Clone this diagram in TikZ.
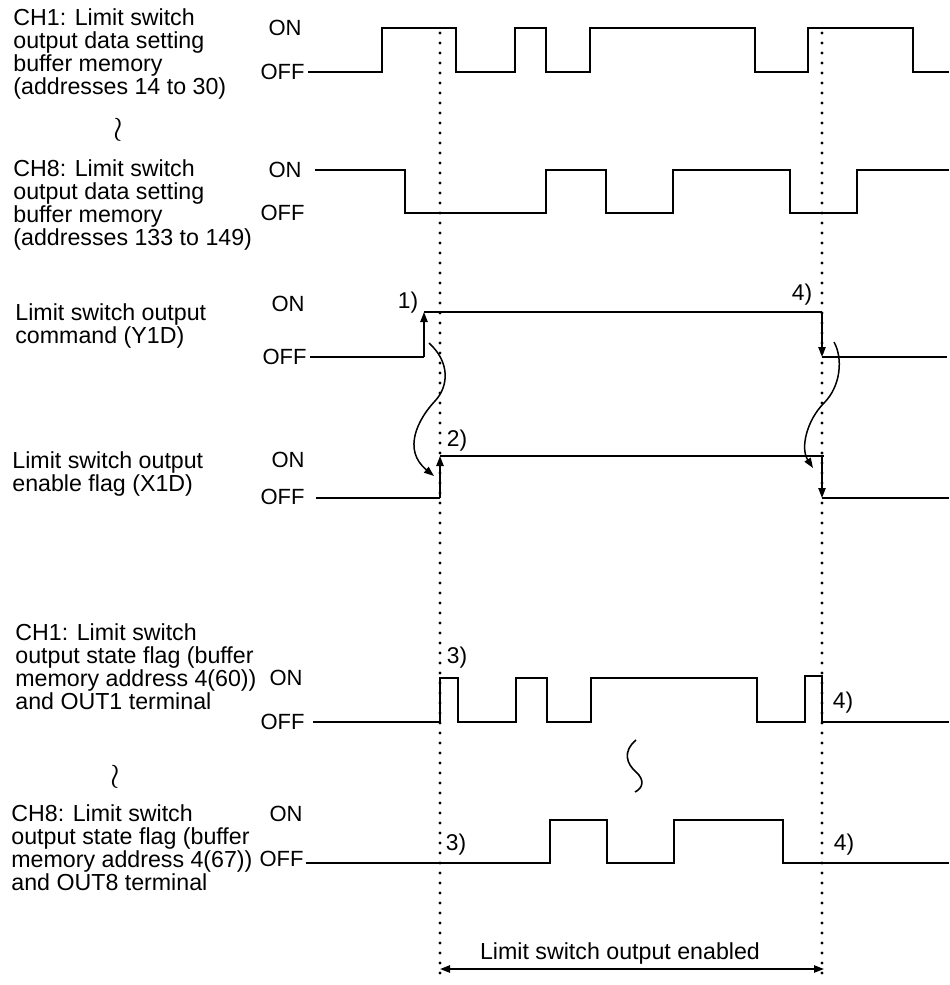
\documentclass[tikz,border=0pt]{standalone}
\usepackage{fontspec}
\setmainfont{Liberation Sans}
\usetikzlibrary{arrows.meta}
\tikzset{sig/.style={line width=0.9pt,line join=miter},
  guide/.style={line width=1.6pt,line cap=round,dash pattern=on 0pt off 5pt},
  edge/.style={-{Triangle[length=5pt,width=3.6pt]},line width=0.9pt},
  cause/.style={-{Triangle[length=5pt,width=3.6pt]},line width=0.75pt},
  desc/.style={align=left,anchor=base west,inner sep=0pt,
    font=\fontsize{11.6}{11.4}\selectfont},
  lvl/.style={inner sep=0pt,font=\fontsize{11}{11}\selectfont},
  tagl/.style={inner sep=0pt,font=\fontsize{11.4}{11.4}\selectfont},
  gap/.style={inner sep=0pt,font=\fontsize{17}{17}\selectfont}}

\begin{document}
\begin{tikzpicture}[x=0.5pt,y=-0.5pt]
 \useasboundingbox (0,0) rectangle (949,985);
 % signal names (placed by the baseline of their last line)
 \node[desc] (d1) at (13,94) {CH1: Limit switch\\output data setting\\buffer memory\\(addresses 14 to 30)};
 \node[gap] (w1) at (118,130) {$\wr$};
 \node[desc] (d2) at (13,245) {CH8: Limit switch\\output data setting\\buffer memory\\(addresses 133 to 149)};
 \node[desc] (d3) at (15,343) {Limit switch output\\command (Y1D)};
 \node[desc] (d4) at (12,491) {Limit switch output\\enable flag (X1D)};
 \node[desc] (d5) at (15,709) {CH1: Limit switch\\output state flag (buffer\\memory address 4(60))\\and OUT1 terminal};
 \node[gap] (w2) at (115,777) {$\wr$};
 \node[desc] (d6) at (11,890) {CH8: Limit switch\\output state flag (buffer\\memory address 4(67))\\and OUT8 terminal};
 % levels
 \node[lvl] (on1) at (285,28) {ON};
 \node[lvl,anchor=east] (off1) at (305,72) {OFF};
 \node[lvl] (on2) at (285,170) {ON};
 \node[lvl,anchor=east] (off2) at (305,213) {OFF};
 \node[lvl] (on3) at (288,304) {ON};
 \node[lvl,anchor=east] (off3) at (307,357) {OFF};
 \node[lvl] (on4) at (288,460) {ON};
 \node[lvl,anchor=east] (off4) at (305,497) {OFF};
 \node[lvl] (on5) at (286,678) {ON};
 \node[lvl,anchor=east] (off5) at (305,722) {OFF};
 \node[lvl] (on6) at (286,814) {ON};
 \node[lvl,anchor=east] (off6) at (304,859) {OFF};
 % timing guides
 \coordinate (g1t) at (440,33);
 \coordinate (g1b) at (440,982);
 \coordinate (g2t) at (822,33);
 \coordinate (g2b) at (822,982);
 \draw[guide] (g1t) -- (g1b);
 \draw[guide] (g2t) -- (g2b);
 % waveforms
 \draw[sig] (308,72)--(382,72)--(382,28)--(456,28)--(456,72)--(515,72)--(515,28)--(546,28)
   --(546,72)--(590,72)--(590,28)--(755,28)--(755,72)--(808,72)--(808,28)--(913,28)--(913,72)--(949,72);
 \draw[sig] (315,170)--(405,170)--(405,213)--(546,213)--(546,170)--(606,170)--(606,213)--(673,213)
   --(673,170)--(790,170)--(790,213)--(857,213)--(857,170)--(949,170);
 \coordinate (ya) at (424,357);
 \coordinate (yb) at (424,312);
 \coordinate (yc) at (822,312);
 \coordinate (yd) at (822,357);
 \draw[sig] (310,357)--(ya);
 \draw[sig] (yb)--(yc);
 \draw[sig] (yd)--(947,357);
 \draw[edge] (ya)--(yb);
 \draw[edge] (yc)--(yd);
 \coordinate (xa) at (440,498);
 \coordinate (xb) at (440,456);
 \coordinate (xc) at (822,456);
 \coordinate (xd) at (822,498);
 \draw[sig] (316,498)--(xa);
 \draw[sig] (xb)--(824,456);
 \draw[sig] (xd)--(949,498);
 \draw[edge] (xa)--(xb);
 \draw[edge] (xc)--(xd);
 \draw[sig] (313,722)--(440,722)--(440,678)--(458,678)--(458,722)--(516,722)--(516,678)--(547,678)
   --(547,722)--(591,722)--(591,678)--(757,678)--(757,722)--(805,722)--(805,676)--(822,676)--(822,722)--(949,722);
 \draw[sig] (306,863)--(550,863)--(550,820)--(607,820)--(607,863)--(674,863)--(674,820)--(783,820)
   --(783,863)--(949,863);
 % cause and effect
 \coordinate (c1s) at (429,343);
 \coordinate (c1e) at (434,476);
 \coordinate (c2s) at (834,342);
 \coordinate (c2e) at (813,468);
 \draw[cause] (c1s) .. controls (450,362) and (449,386) .. (435,401)
   .. controls (418,419) and (402,450) .. (c1e);
 \draw[cause] (c2s) .. controls (843,358) and (841,386) .. (824,403)
   .. controls (807,420) and (800,448) .. (c2e);
 \draw[line width=0.8pt] (636,740) .. controls (622,752) and (627,764) .. (636,772)
   .. controls (645,780) and (643,788) .. (635,792);
 % step numbers
 \node[tagl] (s1) at (408,303) {1)};
 \node[tagl] (s2) at (457,441) {2)};
 \node[tagl] (s4a) at (802,295) {4)};
 \node[tagl] (s3a) at (457,658) {3)};
 \node[tagl] (s4b) at (843,703) {4)};
 \node[tagl] (s3b) at (456,845) {3)};
 \node[tagl] (s4c) at (844,845) {4)};
 % enabled span
 \coordinate (ea) at (440,969);
 \coordinate (eb) at (824,969);
 \draw[{Triangle[length=5pt,width=3.6pt]}-{Triangle[length=5pt,width=3.6pt]},line width=0.9pt] (ea) -- (eb);
 \node[tagl,font=\fontsize{11.6}{11.6}\selectfont] (en) at (620,953) {Limit switch output enabled};
\end{tikzpicture}
\end{document}
